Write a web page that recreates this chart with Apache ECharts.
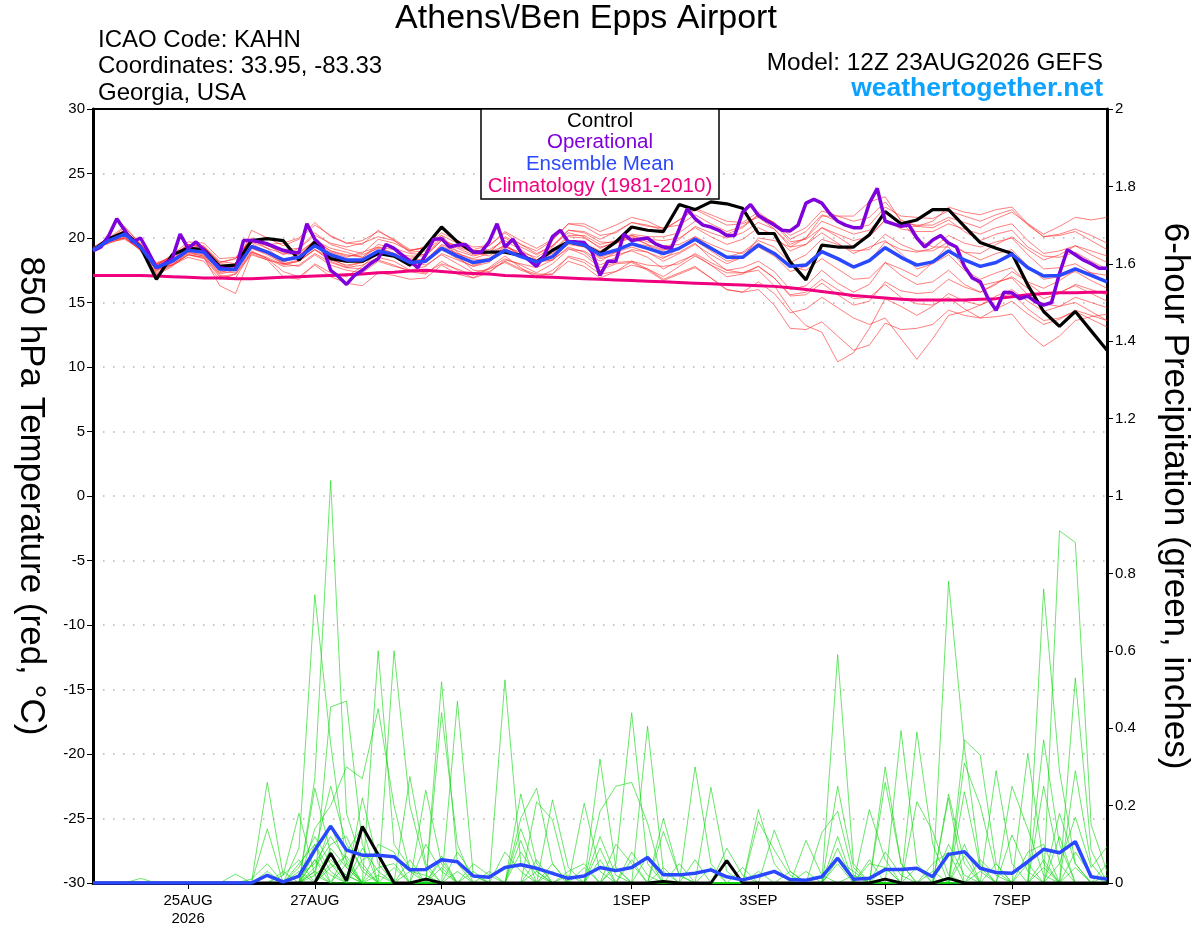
<!DOCTYPE html>
<html>
<head>
<meta charset="utf-8">
<script src="https://cdn.jsdelivr.net/npm/echarts@6.0.0/dist/echarts.min.js"></script>
<style>html,body{margin:0;padding:0;background:#fff;}#main{width:1200px;height:927px;}</style>
</head>
<body>
<div id="main"></div>
<script>
// ---------- DATA ----------
const STEP_H = 6;          // ensemble / control / mean / climatology step (hours)
const OPER_STEP_H = 3;     // operational run step (hours)
const tickHours = [36, 84, 132, 204, 252, 300, 348];
const tickLabels = ['25AUG\n2026', '27AUG', '29AUG', '1SEP', '3SEP', '5SEP', '7SEP'];

const tControl = [19.05,19.95,20.45,19.3,16.8,18.7,19.2,19.1,17.8,17.9,
 19.8,19.95,19.8,18.3,19.7,18.4,18.2,18.2,18.8,18.6,
 17.9,19.35,20.85,19.7,18.9,18.9,18.9,18.65,18.15,19.05,
 19.7,19.45,18.8,19.7,20.85,20.6,20.5,22.6,22.2,22.8,
 22.65,22.3,20.35,20.35,18.15,16.75,19.45,19.3,19.3,20.25,
 22.05,21.1,21.4,22.2,22.2,20.9,19.65,19.2,18.8,16.35,
 14.3,13.15,14.3,12.8,11.3];

const tOper = [19.0,19.3,20.2,21.5,20.6,19.7,20.0,18.9,17.7,18.0,
 18.4,20.3,19.2,19.7,19.05,18.3,17.7,17.6,17.55,19.8,
 19.8,19.7,19.55,19.3,19.05,18.9,18.85,21.1,19.9,19.3,
 17.5,17.0,16.4,17.1,17.5,18.0,18.4,19.5,19.2,18.7,
 18.2,17.7,18.7,19.9,19.95,19.3,19.45,
 19.5,18.9,18.9,19.7,21.1,19.3,19.9,18.9,18.3,17.8,
 18.7,20.1,20.6,19.7,19.7,19.65,18.9,17.1,18.2,18.2,
 20.3,19.8,19.9,20.0,19.55,19.3,19.2,20.7,22.25,21.5,
 21.0,20.85,20.6,20.2,20.2,22.0,22.6,21.75,21.35,21.0,
 20.6,
 20.55,21.0,22.7,23.0,22.7,21.9,21.3,21.0,20.8,20.8,
 22.7,23.85,21.3,21.1,20.9,21.0,20.0,19.3,19.85,20.2,
 19.6,19.3,17.8,16.9,16.6,15.3,14.4,15.8,15.75,15.3,
 15.5,15.05,14.8,15.0,17.25,19.1,18.7,18.3,18.0,17.65,
 17.65];

const tMean = [19.05,19.8,20.3,19.3,17.7,18.2,19.05,18.9,17.6,17.55,
 19.35,18.9,18.3,18.5,19.4,18.7,18.3,18.3,19.0,18.7,
 18.1,18.2,19.2,18.6,18.1,18.3,19.05,18.55,18.15,18.55,
 19.7,19.45,18.7,19.05,19.55,19.2,18.8,19.2,19.9,19.2,
 18.5,18.5,19.45,18.8,17.8,17.9,18.95,18.4,17.75,18.25,
 19.25,18.5,17.9,18.15,19.0,18.3,17.8,18.1,18.75,17.7,
 17.05,17.1,17.6,17.1,16.6];

const tClim = [17.1,17.1,17.1,17.1,17.05,17.0,16.95,16.9,16.9,16.85,
 16.85,16.9,16.95,17.0,17.05,17.1,17.15,17.2,17.3,17.35,
 17.45,17.5,17.4,17.3,17.25,17.2,17.1,17.05,17.0,16.95,
 16.9,16.85,16.8,16.75,16.7,16.65,16.6,16.55,16.5,16.45,
 16.4,16.35,16.3,16.25,16.15,16.0,15.85,15.7,15.55,15.45,
 15.35,15.25,15.2,15.2,15.2,15.2,15.25,15.3,15.45,15.6,
 15.7,15.75,15.75,15.8,15.8];

const tm01 = [19.1,19.9,20.6,19.5,17.7,18.5,19.5,19.3, 18.1,18.4,20.0,19.5,18.7,19.2,20.4,19.5, 19.1,18.8,19.9,19.6,19.0,19.3,20.2,19.6, 19.1,19.4,20.5,19.8,19.2,19.9,21.1,20.9, 20.2,20.4,21.2,20.9,20.8,21.0,21.8,21.1, 20.5,20.9,21.8,21.2,19.9,20.5,21.8,21.3, 20.8,21.0,22.4,21.7,21.6,21.5,22.1,21.7, 21.3,21.8,22.2,21.0,20.1,20.3,20.7,20.2,19.6];
const tm02 = [19.1,19.7,19.9,19.1,17.2,17.9,18.7,18.5, 16.3,15.7,18.8,18.3,18.0,17.8,18.7,17.9, 17.5,17.3,18.2,17.8,17.5,17.3,18.0,17.6, 17.1,17.6,18.1,17.5,17.1,17.2,18.6,18.3, 17.5,18.0,18.1,17.5,16.7,17.2,17.7,16.9, 16.0,15.8,16.0,14.8,13.0,12.9,13.5,12.4, 11.3,11.7,13.4,12.9,13.0,13.3,14.4,14.0, 13.8,14.5,15.1,14.1,13.3,13.7,14.4,14.0,13.6];
const tm03 = [19.2,19.9,20.8,19.6,17.9,18.7,19.7,19.6, 18.4,18.5,19.9,19.2,18.2,18.5,19.5,18.4, 17.8,18.1,18.8,18.6,17.8,18.3,19.5,19.0, 18.6,18.9,20.0,19.3,18.7,19.4,20.6,20.4, 19.7,19.6,20.1,19.5,18.5,18.9,19.6,18.4, 17.5,17.7,18.2,17.4,16.0,16.3,17.5,16.5, 15.8,16.4,18.1,17.6,17.0,18.1,19.5,18.9, 18.8,19.5,20.1,19.1,18.3,18.7,19.4,19.0,18.6];
const tm04 = [19.0,19.7,20.2,19.2,17.5,18.1,18.9,18.6, 17.3,17.7,19.3,18.9,18.2,18.8,19.8,19.2, 18.9,18.5,19.3,18.8,18.2,17.9,18.7,18.0, 17.3,17.6,18.4,17.9,17.3,18.0,19.1,19.0, 18.2,18.9,19.6,19.4,19.0,19.9,20.9,20.4, 20.0,20.4,21.2,20.7,19.5,20.0,21.3,20.8, 20.3,20.6,21.9,21.2,21.0,21.0,21.6,21.2, 20.8,21.5,22.0,21.1,20.3,20.9,21.6,21.4,21.6];
const tm05 = [19.1,19.9,20.4,19.4,18.1,18.4,19.3,19.2, 17.9,17.6,19.7,19.2,18.8,18.7,19.6,18.9, 18.5,18.9,19.3,19.1,18.4,18.8,19.9,19.3, 18.9,18.6,19.5,18.7,18.3,18.3,19.2,18.7, 17.7,18.1,18.2,17.6,16.8,17.3,17.8,16.9, 16.0,15.8,16.6,15.7,14.2,14.5,15.4,14.6, 13.8,13.3,13.8,12.2,10.6,12.2,14.0,14.3, 14.8,15.5,16.0,15.1,14.3,14.7,15.4,15.0,14.6];
const tm06 = [19.1,19.6,20.1,19.0,17.3,17.9,18.5,18.2, 16.8,17.2,18.7,18.3,17.0,16.8,18.0,17.3, 17.0,17.8,18.9,18.6,18.3,18.3,19.4,18.8, 18.4,18.8,20.1,19.5,19.0,19.8,21.1,21.1, 20.5,21.0,21.6,21.3,20.7,21.4,22.2,21.6, 21.0,21.1,21.6,20.7,19.3,19.5,20.4,19.6, 18.8,19.3,19.8,18.8,17.6,18.0,18.7,17.5, 16.8,17.3,17.7,16.5,15.6,15.8,16.3,15.7,15.1];
const tm07 = [19.2,19.8,20.5,19.4,17.6,18.3,19.3,19.1, 17.8,17.9,19.8,19.4,19.1,19.2,20.2,19.6, 19.3,19.6,20.1,19.8,19.0,19.3,20.4,19.8, 19.3,19.4,20.4,19.5,18.8,19.4,20.4,20.1, 19.2,19.7,20.2,19.9,19.8,20.0,20.8,20.1, 19.5,19.9,20.8,20.2,19.0,19.5,20.8,20.3, 19.8,20.1,21.4,20.7,20.5,20.5,21.1,20.7, 20.3,20.8,21.1,19.8,18.8,19.0,19.4,18.7,18.1];
const tm08 = [19.0,19.8,20.0,19.2,17.6,17.9,18.9,18.7, 17.4,17.3,19.0,18.4,17.4,17.0,17.9,17.0, 16.5,16.3,17.3,17.1,16.8,16.9,17.9,17.2, 16.9,17.7,18.6,17.7,16.9,17.5,18.5,18.1, 17.2,17.4,18.2,17.9,17.8,18.0,18.8,18.1, 17.5,17.3,17.5,16.3,14.5,13.2,12.7,10.4, 11.1,13.0,15.3,14.7,14.0,14.7,15.7,15.1, 14.8,15.3,15.7,14.5,13.6,13.8,14.3,13.7,13.1];
const tm09 = [19.1,19.9,20.6,19.5,18.0,18.6,19.5,19.4, 18.2,18.0,19.9,19.4,18.9,18.9,19.8,19.0, 18.6,18.7,19.2,18.8,17.9,18.1,19.1,18.4, 17.8,18.3,19.1,18.7,18.2,19.0,20.2,20.2, 19.5,19.8,20.2,19.7,19.4,19.5,20.1,19.3, 18.5,18.9,19.8,19.3,18.1,18.7,19.9,19.5, 19.0,19.1,20.3,19.5,19.0,19.0,19.7,18.9, 18.3,18.8,19.1,17.8,16.8,17.0,17.4,16.7,16.1];
const tm10 = [19.0,19.7,20.2,19.1,17.1,17.8,18.7,18.4, 17.0,17.2,18.9,18.5,17.9,18.2,19.1,18.5, 18.1,18.4,18.9,18.7,18.3,18.3,19.3,18.8, 18.3,18.4,19.4,18.6,18.0,18.5,19.5,19.3, 18.4,18.7,19.0,18.5,17.6,18.2,18.7,17.9, 17.0,17.2,17.8,16.9,15.6,15.8,16.8,16.0, 15.3,15.4,16.4,15.4,14.9,14.8,15.4,14.5, 13.8,13.9,14.1,12.6,11.6,12.4,13.6,13.9,14.1];
const tm11 = [19.2,19.9,20.4,19.5,17.9,18.6,19.4,19.3, 18.0,17.9,19.6,18.9,18.0,18.3,19.1,18.2, 17.7,17.6,18.3,17.9,17.4,17.2,18.2,17.5, 16.9,17.3,18.3,18.0,17.7,18.3,19.6,19.6, 19.0,19.6,20.3,20.1,20.1,20.4,21.3,20.8, 20.3,20.8,21.8,21.2,20.2,20.8,22.1,21.7, 21.3,21.6,22.8,21.4,20.9,20.8,21.4,20.5, 19.8,20.3,20.6,19.3,18.6,18.5,18.9,18.2,17.6];
const tm12 = [19.1,19.8,20.0,19.1,17.5,18.0,18.8,18.6, 17.2,17.5,19.2,18.8,18.1,18.6,19.8,19.0, 18.7,18.5,19.5,19.2,18.8,18.7,19.8,19.2, 18.7,18.9,19.4,18.7,18.1,18.3,19.3,18.9, 17.9,18.5,19.1,18.9,18.4,19.2,20.1,19.5, 19.0,18.8,19.6,18.8,17.8,17.5,18.4,17.6, 16.8,16.9,18.1,17.1,16.4,16.6,17.5,16.4, 15.8,16.4,17.4,16.6,16.1,16.7,17.5,17.3,17.1];
const tm13 = [19.1,19.8,20.3,19.3,18.0,18.3,19.2,19.0, 17.7,17.6,20.6,20.0,19.4,19.9,21.0,20.2, 19.6,19.8,20.5,19.9,19.1,19.2,20.2,18.9, 17.9,18.3,19.3,18.9,18.5,19.3,20.6,20.5, 19.9,20.5,21.2,21.0,20.6,21.4,22.3,21.8, 21.3,21.2,22.0,21.1,19.7,19.9,20.8,20.1, 19.3,20.1,21.4,20.9,20.9,21.3,22.4,22.0, 21.8,22.2,22.4,21.1,20.1,20.2,20.5,19.8,19.1];
const tm14 = [19.0,19.8,20.5,19.3,17.4,18.1,19.0,18.8, 17.5,17.7,19.2,18.7,18.0,18.2,19.1,18.3, 17.9,18.1,18.9,18.8,18.6,18.6,19.8,19.4, 19.0,19.1,19.8,19.1,18.3,18.8,19.8,19.4, 18.5,18.9,19.3,18.9,18.2,18.8,19.5,18.7, 18.0,18.5,20.0,19.8,19.3,20.0,21.7,21.7, 21.7,22.8,23.2,21.3,19.9,19.3,19.3,17.7, 16.3,16.6,16.9,15.6,14.9,14.7,15.0,14.3,13.6];
const tm15 = [19.3,20.0,20.9,19.5,17.9,18.5,19.5,19.3, 18.1,18.4,19.9,19.5,19.6,20.0,21.2,20.1, 19.6,19.5,20.6,19.8,18.9,19.0,20.0,18.6, 17.5,17.4,18.2,17.6,17.2,17.2,18.2,17.8, 16.9,17.4,17.9,17.6,17.0,17.8,18.6,17.9, 17.3,17.3,17.8,16.9,15.5,15.6,16.5,15.6, 14.8,15.1,16.6,15.9,15.7,15.8,16.8,16.2, 15.8,16.5,17.0,16.1,15.3,15.7,16.4,16.0,15.6];
const tm16 = [19.1,19.6,20.0,19.1,17.7,17.9,18.7,18.5, 17.1,16.9,18.9,18.4,17.8,17.9,18.8,18.1, 17.7,17.9,18.5,18.2,17.5,17.8,18.8,18.3, 17.8,18.1,19.2,18.6,18.1,18.9,20.1,20.0, 19.3,19.6,20.0,19.5,19.1,19.2,19.8,19.0, 18.2,18.5,19.3,18.6,17.4,17.8,18.9,18.4, 17.8,18.2,19.7,19.1,18.9,19.2,20.2,19.6, 19.3,19.7,20.0,18.7,17.6,17.7,18.0,17.3,16.6];

const pMean = [0,0,0,0,0,0,0,0,0,0, 0,0.02,0.003,0.018,0.085,0.147,0.085,0.072,0.072,0.068, 0.034,0.035,0.06,0.055,0.018,0.015,0.04,0.047,0.038,0.025, 0.012,0.018,0.04,0.032,0.04,0.066,0.021,0.021,0.025,0.034, 0.016,0.008,0.018,0.03,0.009,0.007,0.016,0.064,0.01,0.012, 0.035,0.035,0.038,0.016,0.074,0.081,0.038,0.027,0.025,0.055, 0.087,0.078,0.107,0.016,0.01];
const pControl = [0,0,0,0,0,0,0,0,0,0, 0,0,0,0,0,0.077,0.006,0.146,0.073,0, 0,0.01,0,0,0,0,0,0,0,0, 0,0,0,0,0,0,0.004,0,0,0, 0.058,0,0,0,0,0,0,0,0,0, 0.01,0,0,0,0.012,0,0,0,0,0, 0,0,0,0,0];

const pm01 = [0,0,0,0,0,0,0,0,0,0, 0,0,0,0.09,0.745,0.36,0.05,0,0,0, 0,0,0.04,0,0,0,0,0.11,0,0, 0,0,0,0,0.06,0,0,0,0,0, 0,0,0,0,0,0,0,0.12,0,0, 0,0,0,0,0.22,0,0,0,0,0, 0,0.18,0.05,0,0];
const pm02 = [0,0,0,0,0,0,0,0,0,0, 0,0,0,0,0.27,1.04,0.18,0.05,0,0, 0,0,0,0,0,0,0,0,0.03,0, 0,0,0.09,0,0,0,0,0,0,0, 0,0,0,0,0,0,0,0,0,0, 0.3,0.05,0,0,0,0.1,0,0,0,0, 0.25,0.05,0,0,0];
const pm03 = [0,0,0,0,0,0,0,0,0,0, 0,0.26,0.02,0.18,0.02,0,0,0,0.6,0.1, 0.04,0,0,0,0,0,0,0,0,0, 0,0,0,0.05,0.44,0.05,0,0,0,0, 0,0,0,0,0,0,0,0.05,0,0, 0,0,0,0,0.78,0.35,0.05,0,0,0, 0,0,0,0,0.02];
const pm04 = [0,0,0,0,0,0,0,0,0,0, 0,0.14,0,0,0,0.455,0.47,0.1,0,0, 0,0,0.44,0.1,0,0,0,0,0,0, 0,0,0,0,0,0,0,0,0.3,0.05, 0,0,0,0,0,0,0,0.59,0.05,0, 0,0,0,0,0,0,0,0.29,0.05,0, 0,0,0,0,0];
const pm05 = [0,0,0,0,0,0,0,0,0,0, 0,0,0,0,0.245,0.077,0,0,0,0.6, 0.2,0.04,0,0,0,0,0,0.23,0.05,0, 0,0,0,0,0,0.405,0.03,0,0,0, 0,0,0,0,0,0,0,0.25,0.04,0, 0,0,0,0,0,0,0,0,0,0, 0.76,0.29,0.05,0,0];
const pm06 = [0,0,0,0,0,0,0,0,0,0, 0,0,0,0,0.14,0.2,0.3,0.27,0.45,0.2, 0.03,0,0,0,0,0,0,0,0,0, 0,0,0.32,0.04,0,0,0,0,0,0, 0,0,0,0,0,0,0,0,0,0, 0,0,0.39,0.1,0,0,0,0,0,0, 0,0.91,0.88,0.15,0.03];
const pm07 = [0,0,0,0,0,0,0,0,0,0.023, 0,0,0,0.05,0.1,0,0,0.22,0.05,0, 0,0,0,0.47,0.02,0,0.525,0.05,0,0, 0,0,0,0,0,0,0,0,0,0, 0,0,0.19,0.05,0,0,0,0,0,0, 0,0,0,0,0,0.37,0.33,0.05,0,0, 0,0,0.53,0.085,0];
const pm08 = [0,0,0,0.012,0,0,0,0,0,0, 0,0,0.03,0,0.06,0,0.08,0.145,0,0, 0.275,0.05,0,0,0,0,0,0,0,0.215, 0.04,0,0.185,0.25,0.26,0.155,0,0,0,0, 0,0,0,0,0,0,0,0,0,0.19, 0.06,0,0,0,0,0,0,0,0,0.335, 0.05,0,0,0,0];
const pm09 = [0,0,0,0,0,0,0,0,0,0, 0,0,0,0,0.03,0.15,0.04,0,0,0, 0,0.24,0.05,0,0,0,0,0.167,0.245,0.05, 0,0,0,0,0,0,0,0,0,0.247, 0.03,0,0,0,0,0,0,0,0,0, 0,0.394,0.05,0,0,0,0,0,0,0, 0.37,0.1,0,0,0];
const pm10 = [0,0,0,0,0,0,0,0,0,0, 0,0,0,0.02,0.05,0.12,0.06,0,0,0, 0,0,0.52,0.05,0,0,0,0,0.21,0.163, 0,0.206,0.03,0,0,0,0,0,0,0, 0,0,0,0,0,0,0.13,0.185,0.02,0, 0,0,0,0,0,0.31,0.2,0.03,0,0, 0,0,0,0,0];
const pm11 = [0,0,0,0,0,0,0,0,0,0, 0.01,0.05,0,0,0.08,0.25,0.1,0.04,0,0, 0,0,0,0,0,0,0,0.14,0.03,0, 0,0,0,0,0,0,0.167,0.02,0,0, 0,0,0,0.137,0.03,0,0,0,0,0, 0,0,0,0,0.23,0.05,0,0,0.25,0.14, 0.02,0,0,0,0];
const pm12 = [0,0,0,0,0,0,0,0,0,0, 0,0,0,0,0.02,0.06,0.02,0,0.1,0.08, 0,0,0,0,0.05,0.02,0,0,0,0, 0,0,0.06,0,0,0,0,0,0,0, 0.09,0.02,0,0,0,0,0,0,0,0, 0.26,0.05,0,0,0,0.236,0.04,0,0,0, 0,0,0.29,0.05,0];
const pm13 = [0,0,0,0,0,0,0,0,0,0, 0,0,0,0.04,0.12,0.05,0,0.06,0.08,0, 0,0.1,0.03,0,0,0,0,0,0,0, 0.03,0.05,0,0,0,0,0.133,0.02,0,0, 0,0,0,0,0,0.11,0.02,0,0,0, 0,0,0.21,0.133,0.02,0,0,0,0.124,0.03, 0,0,0,0,0];
const pm14 = [0,0,0,0,0,0,0,0,0,0, 0,0,0.02,0.06,0,0.09,0.04,0,0,0, 0.06,0,0,0,0,0,0.08,0.03,0,0, 0,0,0,0.1,0.05,0,0,0,0,0, 0,0,0.159,0.085,0.02,0,0,0,0,0.05, 0.04,0,0,0,0,0,0,0,0,0, 0,0.05,0.17,0.04,0.094];
const pm15 = [0,0,0,0,0,0,0,0,0,0, 0,0,0,0,0.04,0.1,0.12,0.03,0,0, 0,0,0,0.08,0.02,0,0,0,0,0.05, 0,0,0.12,0.02,0,0,0,0,0.06,0, 0,0,0,0,0,0,0,0.06,0.03,0, 0,0,0,0.05,0.08,0,0,0,0,0.08, 0.1,0,0,0,0];
const pm16 = [0,0,0,0,0,0,0,0,0,0, 0,0.03,0,0,0.1,0.03,0,0,0.04,0.05, 0,0,0.06,0,0,0,0,0.08,0.02,0, 0,0,0,0,0,0.07,0,0,0,0, 0,0.04,0,0,0,0,0,0,0,0, 0.08,0.02,0,0,0,0,0.06,0.02,0,0, 0,0.12,0,0,0];
const pm17 = [0,0,0,0,0,0,0,0,0,0, 0,0,0,0.03,0,0.04,0.07,0,0,0, 0.03,0.02,0,0,0,0.03,0,0,0,0, 0,0.04,0,0,0,0,0,0.05,0,0, 0,0,0,0,0.03,0,0,0,0,0, 0,0,0.04,0,0,0.07,0,0,0,0, 0.06,0,0.08,0.02,0];
const pm18 = [0,0,0,0,0,0,0,0,0,0, 0,0,0,0,0.06,0.02,0,0.09,0.03,0, 0,0,0.07,0,0,0,0,0,0.06,0, 0,0,0,0,0.08,0.02,0,0,0,0, 0,0,0,0,0,0,0,0.09,0,0, 0,0,0,0,0.1,0.02,0,0,0,0.05, 0,0,0,0,0];
const pm19 = [0,0,0,0,0,0,0,0,0,0, 0,0,0,0,0,0.05,0.02,0,0,0.04, 0,0,0,0.03,0,0,0,0,0,0.03, 0,0,0,0.04,0,0,0,0,0,0.04, 0,0,0,0,0,0.03,0,0,0,0.06, 0,0,0,0.03,0,0,0,0.05,0,0, 0,0,0.04,0,0];
const pm20 = [0,0,0,0,0,0,0,0,0,0, 0,0,0,0,0.03,0,0.05,0,0.02,0, 0,0,0,0,0.03,0,0,0,0,0, 0.02,0,0,0,0,0,0.04,0,0,0, 0,0,0.03,0,0,0,0,0,0.02,0, 0.04,0,0,0,0,0,0.03,0,0,0, 0.04,0,0,0,0.05];

const tMembers = [tm01,tm02,tm03,tm04,tm05,tm06,tm07,tm08,tm09,tm10,tm11,tm12,tm13,tm14,tm15,tm16];
const pMembers = [pm01,pm02,pm03,pm04,pm05,pm06,pm07,pm08,pm09,pm10,pm11,pm12,pm13,pm14,pm15,pm16,pm17,pm18,pm19,pm20];

// ---------- CHART ----------
const FONT = '"Liberation Sans", Arial, Helvetica, sans-serif';
const at6 = arr => arr.map((v, i) => [i * STEP_H, v]);
const at3 = arr => arr.map((v, i) => [i * OPER_STEP_H, v]);
const lineBase = { type: 'line', showSymbol: false, symbol: 'none', silent: true, animation: false };

const series = [];
tMembers.forEach(m => series.push(Object.assign({}, lineBase, {
  data: at6(m), yAxisIndex: 0, z: 2, lineStyle: { color: 'rgba(255,40,40,0.75)', width: 0.8 }
})));
pMembers.forEach(m => series.push(Object.assign({}, lineBase, {
  data: at6(m), yAxisIndex: 1, z: 2, lineStyle: { color: 'rgba(20,215,20,0.8)', width: 0.8 }
})));
series.push(Object.assign({}, lineBase, { data: at6(tClim), yAxisIndex: 0, z: 3, lineStyle: { color: '#f0007f', width: 3 } }));
series.push(Object.assign({}, lineBase, { data: at6(tControl), yAxisIndex: 0, z: 4, lineStyle: { color: '#000000', width: 3.2 } }));
series.push(Object.assign({}, lineBase, { data: at3(tOper), yAxisIndex: 0, z: 5, lineStyle: { color: '#8000dc', width: 3.5 } }));
series.push(Object.assign({}, lineBase, { data: at6(tMean), yAxisIndex: 0, z: 6, lineStyle: { color: '#2a48ff', width: 3.5 } }));
series.push(Object.assign({}, lineBase, { data: at6(pControl), yAxisIndex: 1, z: 5, lineStyle: { color: '#000000', width: 3 } }));
series.push(Object.assign({}, lineBase, { data: at6(pMean), yAxisIndex: 1, z: 6, lineStyle: { color: '#2a48ff', width: 3.5 } }));

function txt(text, x, y, size, color, align, weight) {
  return { type: 'text', x: x, y: y, z: 101, silent: true,
    style: { text: text, fill: color, font: (weight || 'normal') + ' ' + size + 'px ' + FONT,
      fontSize: size, fontFamily: FONT, fontWeight: weight || 'normal',
      textAlign: align, align: align, textVerticalAlign: 'middle', verticalAlign: 'middle' } };
}

const chart = echarts.init(document.getElementById('main'), null, { renderer: 'canvas', width: 1200, height: 927 });
chart.setOption({
  animation: false,
  backgroundColor: '#ffffff',
  grid: { left: 93, right: 93, top: 109, bottom: 44, outerBoundsMode: 'none', containLabel: false,
    show: true, borderColor: '#000', borderWidth: 2, backgroundColor: '#fff' },
  xAxis: [{
    type: 'value', min: 0, max: 384, position: 'bottom',
    axisLine: { show: true, onZero: false, lineStyle: { color: '#000', width: 3 } },
    axisTick: { show: true, length: 6, customValues: tickHours, lineStyle: { color: '#000', width: 1 } },
    axisLabel: { show: true, customValues: tickHours, margin: 9, fontSize: 15, lineHeight: 18, color: '#000', fontFamily: FONT,
      formatter: v => { const k = tickHours.indexOf(v); return k >= 0 ? tickLabels[k] : ''; } },
    splitLine: { show: false }
  }, {
    type: 'value', min: 0, max: 384, position: 'top',
    axisLine: { show: true, onZero: false, lineStyle: { color: '#000', width: 2 } },
    axisTick: { show: false }, axisLabel: { show: false }, splitLine: { show: false }
  }],
  yAxis: [
    { type: 'value', position: 'left', min: -30, max: 30, interval: 5,
      name: '850 hPa Temperature (red, \u00b0C)', nameLocation: 'middle', nameRotate: -90, nameGap: 45,
      nameTextStyle: { fontSize: 35, color: '#000', fontFamily: FONT },
      axisLine: { show: true, onZero: false, lineStyle: { color: '#000', width: 3 } },
      axisTick: { show: true, length: 6, lineStyle: { color: '#000', width: 1 } },
      axisLabel: { fontSize: 15, color: '#000', margin: 8, fontFamily: FONT },
      splitLine: { show: true, lineStyle: { color: '#b4b4b4', width: 1.5, type: [1.5, 8.5] } } },
    { type: 'value', position: 'right', min: 0, max: 2, interval: 0.2,
      name: '6-hour Precipitation (green, inches)', nameLocation: 'middle', nameRotate: -90, nameGap: 50,
      nameTextStyle: { fontSize: 35, color: '#000', fontFamily: FONT },
      axisLine: { show: true, onZero: false, lineStyle: { color: '#000', width: 3 } },
      axisTick: { show: true, length: 6, lineStyle: { color: '#000', width: 1 } },
      axisLabel: { fontSize: 15, color: '#000', margin: 8, fontFamily: FONT },
      splitLine: { show: false } }
  ],
  series: series,
  graphic: [
    txt('Athens\\/Ben Epps Airport', 586, 19, 34, '#000', 'center'),
    txt('ICAO Code: KAHN', 98, 40, 24, '#000', 'left'),
    txt('Coordinates: 33.95, -83.33', 98, 66, 24, '#000', 'left'),
    txt('Georgia, USA', 98, 93, 24, '#000', 'left'),
    txt('Model: 12Z 23AUG2026 GEFS', 1103, 63, 24.4, '#000', 'right'),
    txt('weathertogether.net', 1103, 89, 26.5, '#0ea2ff', 'right', 'bold'),
    { type: 'rect', z: 100, silent: true, shape: { x: 481, y: 109, width: 238, height: 90 },
      style: { fill: '#ffffff', stroke: '#000000', lineWidth: 1.5 } },
    txt('Control', 600, 121, 20.5, '#000000', 'center'),
    txt('Operational', 600, 142, 20.5, '#8000dc', 'center'),
    txt('Ensemble Mean', 600, 164, 20.5, '#2a48ff', 'center'),
    txt('Climatology (1981-2010)', 600, 186, 20.5, '#f0007f', 'center')
  ]
});
</script>
</body>
</html>
